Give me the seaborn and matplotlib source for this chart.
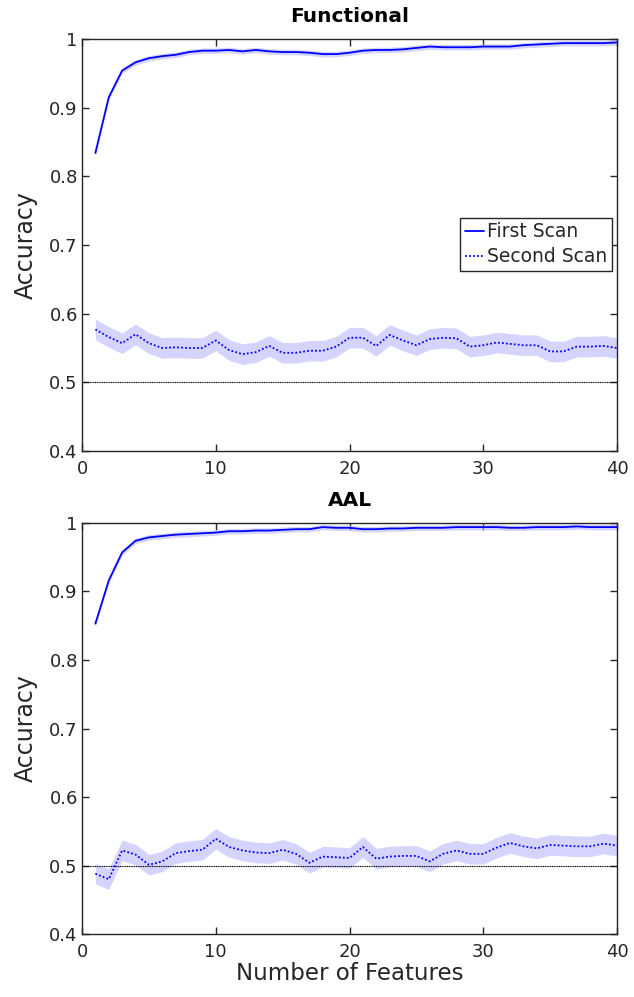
import numpy as np
import pandas as pd
import matplotlib
matplotlib.use("Agg")
import matplotlib.pyplot as plt
import seaborn as sns

# Number of selected features
n_features = list(range(1, 41))

# Functional parcellation: mean accuracy per feature count
functional_first = [0.834, 0.915, 0.954, 0.966, 0.972, 0.975, 0.977, 0.981, 0.983, 0.983,
                     0.984, 0.982, 0.984, 0.982, 0.981, 0.981, 0.980, 0.978, 0.978, 0.980,
                     0.983, 0.984, 0.984, 0.985, 0.987, 0.989, 0.988, 0.988, 0.988, 0.989,
                     0.989, 0.989, 0.991, 0.992, 0.993, 0.994, 0.994, 0.994, 0.994, 0.995]
functional_second = [0.577, 0.566, 0.557, 0.570, 0.557, 0.550, 0.551, 0.550, 0.550, 0.561,
                     0.547, 0.541, 0.544, 0.553, 0.543, 0.543, 0.546, 0.546, 0.552, 0.565,
                     0.565, 0.553, 0.569, 0.561, 0.554, 0.563, 0.565, 0.564, 0.552, 0.554,
                     0.558, 0.556, 0.554, 0.554, 0.545, 0.545, 0.552, 0.552, 0.553, 0.550]

# AAL atlas: mean accuracy per feature count
aal_first = [0.853, 0.916, 0.957, 0.974, 0.979, 0.981, 0.983, 0.984, 0.985, 0.986,
             0.988, 0.988, 0.989, 0.989, 0.990, 0.991, 0.991, 0.994, 0.993, 0.993,
             0.991, 0.991, 0.992, 0.992, 0.993, 0.993, 0.993, 0.994, 0.994, 0.994,
             0.994, 0.993, 0.993, 0.994, 0.994, 0.994, 0.995, 0.994, 0.994, 0.994]
aal_second = [0.488, 0.480, 0.522, 0.516, 0.501, 0.506, 0.518, 0.521, 0.523, 0.539,
              0.527, 0.522, 0.519, 0.518, 0.523, 0.517, 0.504, 0.513, 0.512, 0.511,
              0.527, 0.510, 0.513, 0.514, 0.514, 0.506, 0.517, 0.522, 0.517, 0.517,
              0.526, 0.533, 0.528, 0.525, 0.530, 0.529, 0.528, 0.528, 0.532, 0.529]

# Half-width of the shaded error band for each scan
first_band = 0.004
second_band = 0.015

chance_level = 0.5
panel_titles = ["Functional", "AAL"]
series_names = ["First Scan", "Second Scan"]
y_ticks = [0.4, 0.5, 0.6, 0.7, 0.8, 0.9, 1.0]
y_tick_labels = ["0.4", "0.5", "0.6", "0.7", "0.8", "0.9", "1"]
x_ticks = [0, 10, 20, 30, 40]

sns.set_style("ticks")
plt.rcParams["font.family"] = ["DejaVu Sans"]

ink = "#262626"
blue = (0.0, 0.0, 1.0)
band_color = (0.72, 0.72, 1.0)

fig = plt.figure(figsize=(6.34, 9.97), dpi=100)
left, right = 82 / 634, 617 / 634
ax_top = fig.add_axes([left, 1 - 451 / 997, right - left, (451 - 39) / 997])
ax_bot = fig.add_axes([left, 1 - 934 / 997, right - left, (934 - 523) / 997])

panels = [
    (ax_top, functional_first, functional_second),
    (ax_bot, aal_first, aal_second),
]

for i, (ax, first, second) in enumerate(panels):
    df = pd.DataFrame({
        "features": n_features * 2,
        "accuracy": first + second,
        "scan": [series_names[0]] * len(n_features) + [series_names[1]] * len(n_features),
    })
    first_arr = np.array(first)
    second_arr = np.array(second)
    ax.fill_between(n_features, first_arr - first_band, first_arr + first_band,
                    color=band_color, alpha=0.6, lw=0, zorder=1)
    ax.fill_between(n_features, second_arr - second_band, second_arr + second_band,
                    color=band_color, alpha=0.6, lw=0, zorder=1)
    sns.lineplot(data=df, x="features", y="accuracy", hue="scan", style="scan",
                 palette=[blue, blue], dashes={series_names[0]: "", series_names[1]: (1, 1.2)},
                 linewidth=1.3, ax=ax, legend=(i == 0), zorder=3)
    ax.axhline(chance_level, color="black", lw=0.8, ls=(0, (1, 0.6)), zorder=2)

    ax.set_xlim(0, 40)
    ax.set_ylim(0.4, 1.0)
    ax.set_xticks(x_ticks)
    ax.set_yticks(y_ticks)
    ax.set_yticklabels(y_tick_labels)
    ax.tick_params(direction="in", length=5, width=1, colors=ink, labelcolor=ink,
                   labelsize=13, top=True, right=True, pad=3)
    ax.tick_params(axis="x", pad=6.5)
    for side in ["top", "right", "bottom", "left"]:
        ax.spines[side].set_visible(True)
        ax.spines[side].set_color(ink)
        ax.spines[side].set_linewidth(1.0)
    ax.set_ylabel("Accuracy", fontsize=17, color=ink, labelpad=8)
    ax.set_xlabel("")
    ax.set_title(panel_titles[i], fontsize=14.5, fontweight="bold", color="black", pad=12)

ax_bot.set_xlabel("Number of Features", fontsize=16.5, color=ink, labelpad=1)

leg = ax_top.legend(loc="upper right", bbox_to_anchor=(0.99, 0.566), frameon=True,
                    fancybox=False, handlelength=1.0, handletextpad=0.15,
                    borderpad=0.25, labelspacing=0.3, fontsize=13.5, borderaxespad=0)
leg.get_frame().set_edgecolor(ink)
leg.get_frame().set_linewidth(1.0)
leg.get_frame().set_alpha(1)
leg.set_title(None)

fig.savefig("out.png", dpi=100)
